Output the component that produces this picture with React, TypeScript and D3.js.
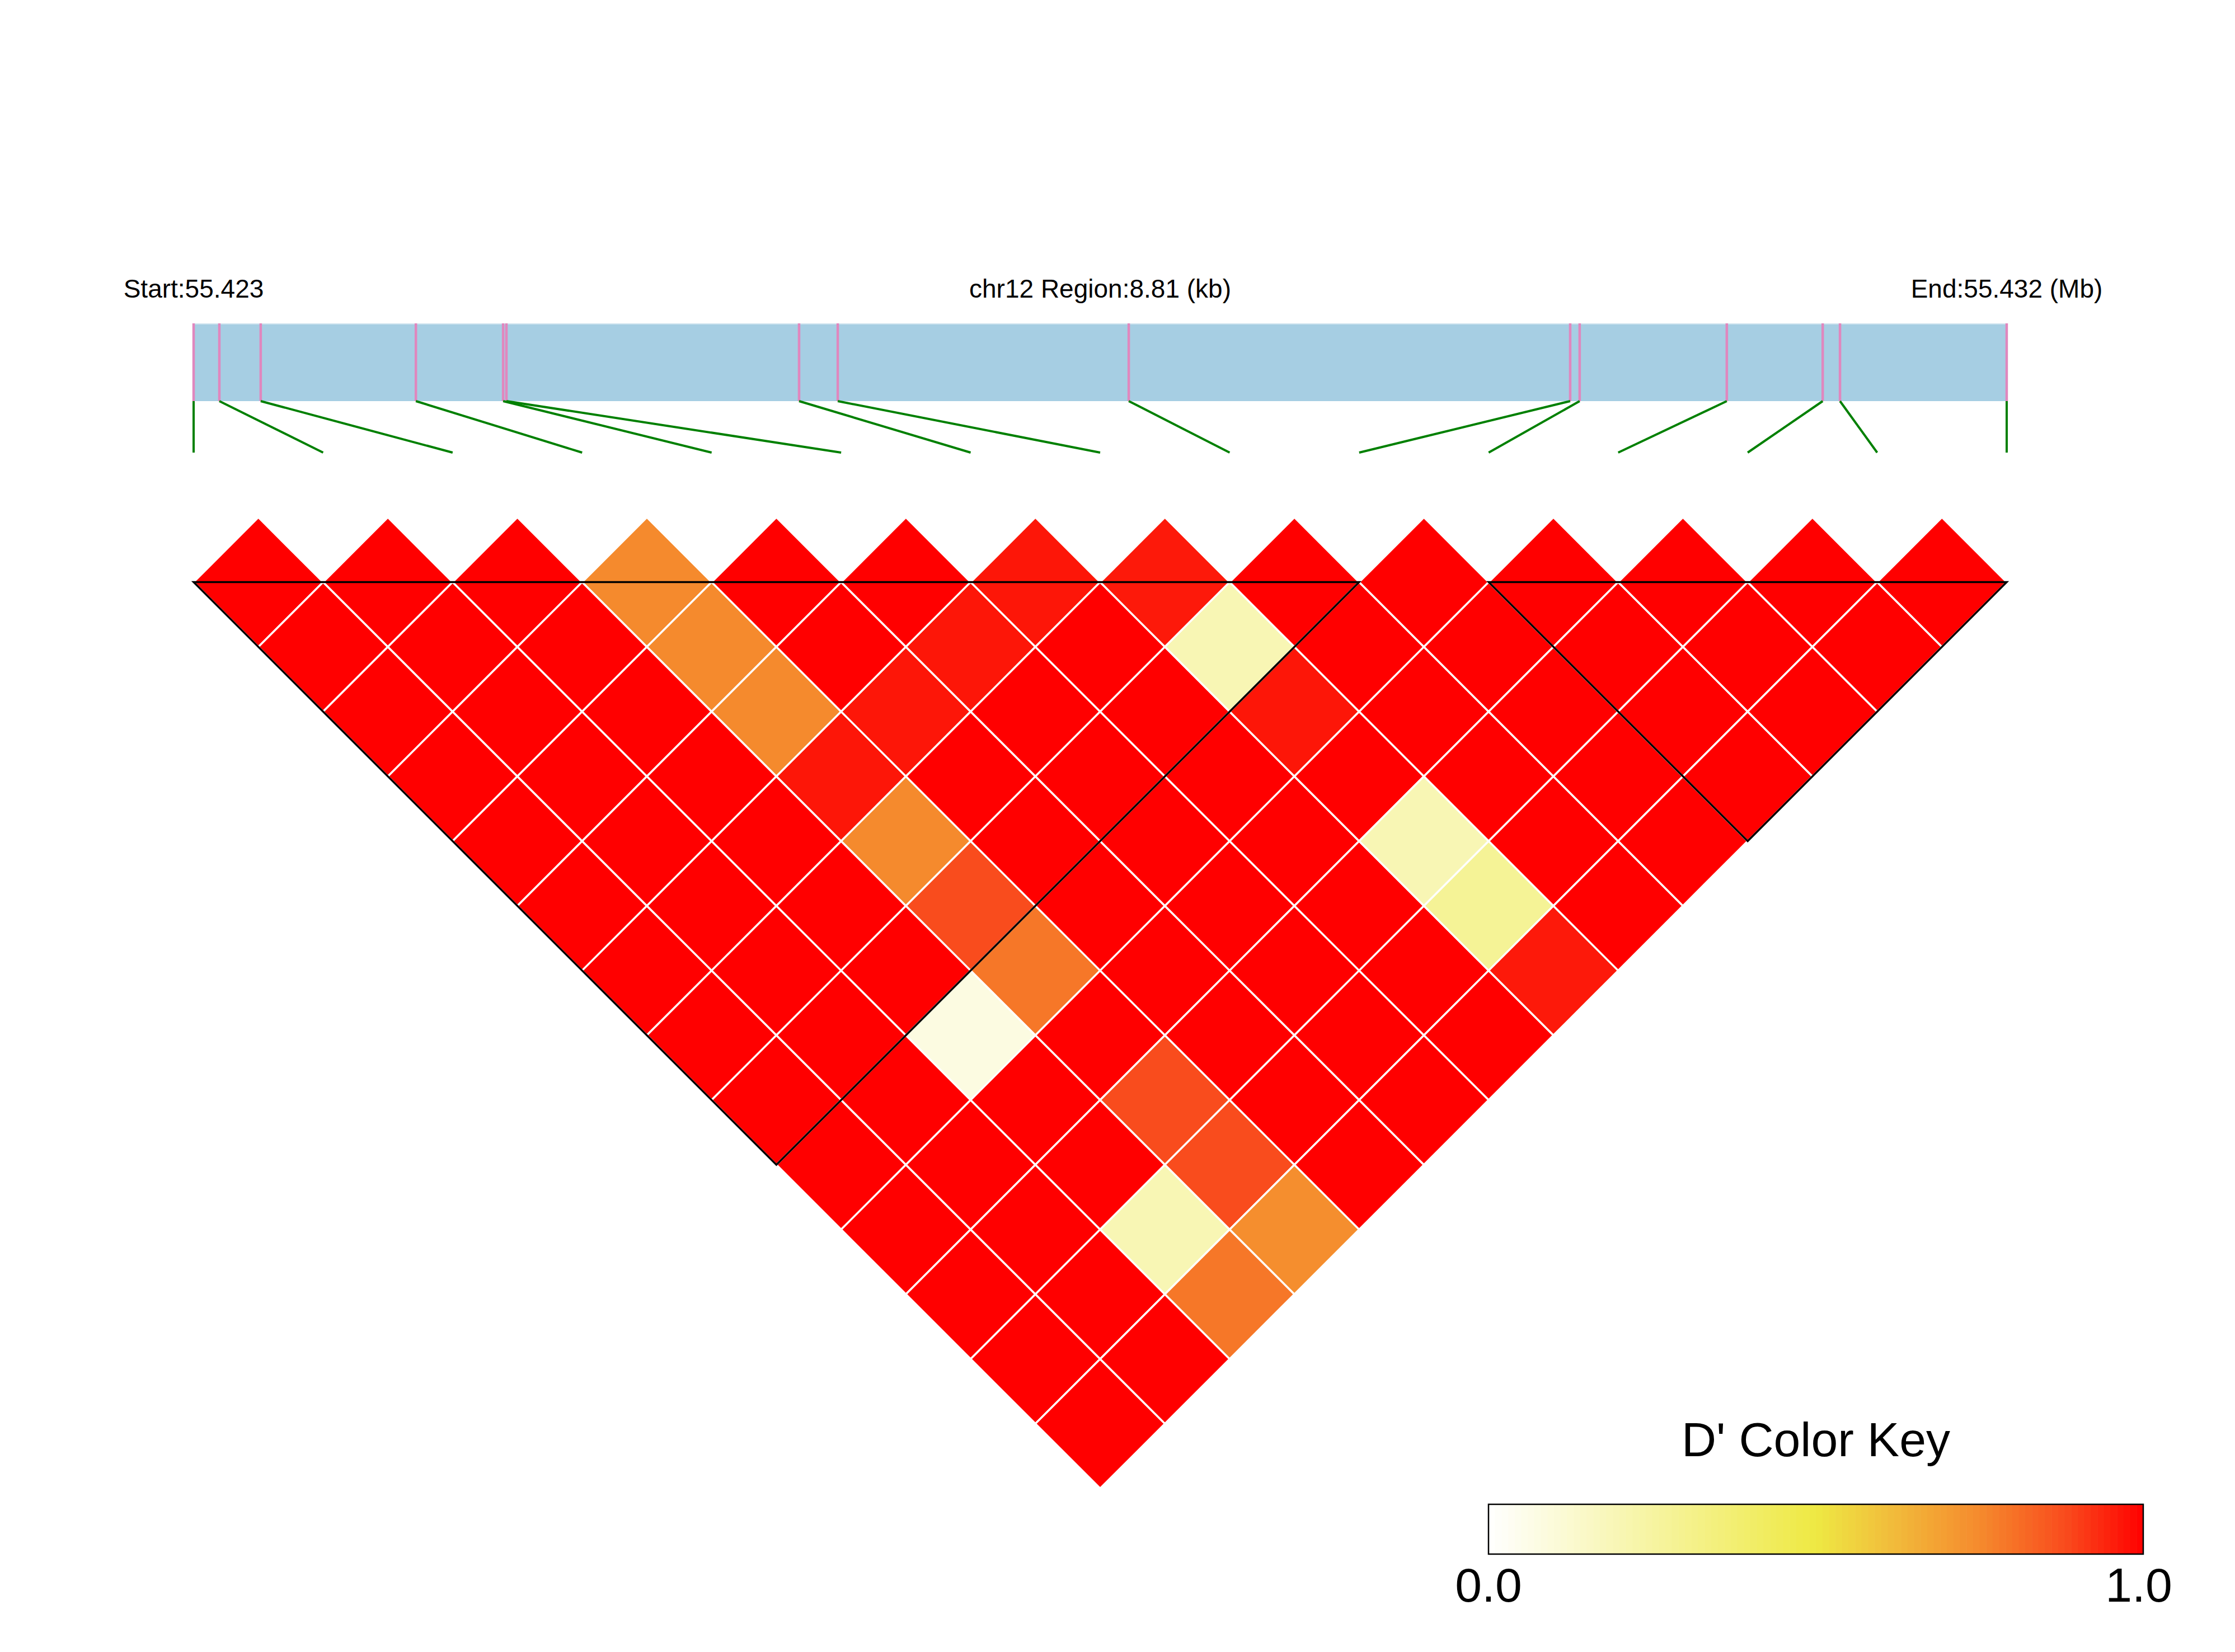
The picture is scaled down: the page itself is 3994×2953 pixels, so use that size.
import React from "react";
import * as d3 from "d3";

// ---- data ----
const chromosome = "chr12";
const snpPositions = [
  55423100, 55423225, 55423426, 55424180, 55424604, 55424620, 55426042, 55426230,
  55427644, 55429789, 55429835, 55430550, 55431016, 55431100, 55431910,
];
// D' for pair (i, j), j = i+1 .. 14 ; row i
const dPrimeRows: number[][] = [
  [1, 1, 1, 1, 1, 1, 1, 1, 1, 1, 1, 1, 1, 1],
  [1, 1, 1, 1, 1, 1, 1, 1, 1, 1, 1, 1, 1],
  [1, 1, 1, 1, 1, 1, 1, 0.08, 1, 1, 0.2, 0.79],
  [0.75, 0.75, 0.75, 0.965, 0.75, 0.88, 0.79, 1, 0.88, 0.88, 0.74],
  [1, 1, 0.965, 1, 1, 1, 1, 1, 1, 1],
  [1, 0.965, 1, 1, 1, 1, 1, 1, 1],
  [0.965, 1, 1, 1, 1, 1, 1, 1],
  [0.96, 0.2, 0.965, 1, 0.2, 0.28, 0.96],
  [1, 1, 1, 1, 1, 1],
  [1, 1, 1, 1, 1],
  [1, 1, 1, 1],
  [1, 1, 1],
  [1, 1],
  [1],
];
const blocks: [number, number][] = [
  [0, 9],
  [10, 14],
];
const keyStops = [0, 0.5, 0.6, 0.75, 0.88, 1];
const keyColors = ["#ffffff", "#eee943", "#f1c23c", "#f58a2d", "#f94c1d", "#ff0000"];
const keyTickLabels = ["0.0", "1.0"];

const W = 3994;
const H = 2953;
const FONT = "'Liberation Sans', Arial, Helvetica, sans-serif";

export default function App() {
  const n = snpPositions.length;
  const start = snpPositions[0];
  const end = snpPositions[n - 1];

  const left = 346;
  const right = 3586;
  const barTop = 578;
  const barBottom = 717;
  const linkBottom = 809;
  const topY = 1040.6;

  const xGenome = d3.scaleLinear().domain([start, end]).range([left, right]);
  const xIdx = d3.scaleLinear().domain([0, n - 1]).range([left, right]);
  const half = (xIdx(1) - xIdx(0)) / 2;
  const yRow = d3.scaleLinear().domain([1, 2]).range([topY, topY + half]);
  const color = d3.scaleLinear<string>().domain(keyStops).range(keyColors).interpolate(d3.interpolateRgb);

  const cells: { i: number; j: number; v: number }[] = [];
  dPrimeRows.forEach((row, i) => row.forEach((v, k) => cells.push({ i, j: i + 1 + k, v })));

  const diamond = (cx: number, cy: number) =>
    `${cx},${cy - half} ${cx + half},${cy} ${cx},${cy + half} ${cx - half},${cy}`;

  // key
  const keyX = d3.scaleLinear().domain([0, 1]).range([2660, 3830]);
  const keyTop = 2689;
  const keyBottom = 2778;
  const nKey = 100;
  const keySteps = d3.range(nKey).map((k) => k / nKey);

  return (
    <svg
      width={W}
      height={H}
      viewBox={`0 0 ${W} ${H}`}
      style={{ position: "absolute", left: 0, top: 0, background: "#fff", display: "block" }}
      fontFamily={FONT}
    >
      <rect x={0} y={0} width={W} height={H} fill="#fff" />
      {/* header text */}
      <text x={xGenome(start)} y={532} fontSize={46} textAnchor="middle">
        {`Start:${(start / 1e6).toFixed(3)}`}
      </text>
      <text x={(xGenome(start) + xGenome(end)) / 2} y={532} fontSize={46} textAnchor="middle">
        {`${chromosome} Region:${((end - start) / 1000).toFixed(2)} (kb)`}
      </text>
      <text x={xGenome(end)} y={532} fontSize={46} textAnchor="middle">
        {`End:${(end / 1e6).toFixed(3)} (Mb)`}
      </text>

      {/* gene region bar */}
      <rect x={xGenome(start)} y={barTop} width={xGenome(end) - xGenome(start)} height={barBottom - barTop} fill="#a6cee3" />
      <line x1={xGenome(start)} x2={xGenome(end)} y1={barTop + 1} y2={barTop + 1} stroke="#cfe4ef" strokeWidth={2} />
      {snpPositions.map((p, k) => (
        <line key={`p${k}`} x1={xGenome(p)} x2={xGenome(p)} y1={barTop} y2={barBottom} stroke="#e087be" strokeWidth={4.5} />
      ))}
      {snpPositions.map((p, k) => (
        <line key={`g${k}`} x1={xGenome(p)} y1={barBottom} x2={xIdx(k)} y2={linkBottom} stroke="#008000" strokeWidth={4} />
      ))}

      {/* LD heatmap */}
      {cells.map((c) => (
        <polygon
          key={`c${c.i}-${c.j}`}
          points={diamond(xIdx((c.i + c.j) / 2), yRow(c.j - c.i))}
          fill={color(c.v)}
          stroke="#ffffff"
          strokeWidth={3.5}
          strokeLinejoin="miter"
        />
      ))}
      {blocks.map(([a, b], k) => {
        const xa = xIdx(a);
        const xb = xIdx(b);
        const bx = (xa + xb) / 2;
        const by = topY + (xb - xa) / 2;
        return (
          <polygon
            key={`b${k}`}
            points={`${xa},${topY} ${xb},${topY} ${bx},${by}`}
            fill="none"
            stroke="#000"
            strokeWidth={3.5}
          />
        );
      })}

      {/* color key */}
      <text x={(keyX(0) + keyX(1)) / 2} y={2603} fontSize={86} textAnchor="middle">
        D' Color Key
      </text>
      {keySteps.map((t, k) => (
        <rect
          key={`k${k}`}
          x={keyX(t)}
          y={keyTop}
          width={keyX(1 / nKey) - keyX(0) + 0.6}
          height={keyBottom - keyTop}
          fill={color(t + 0.5 / nKey)}
        />
      ))}
      <rect x={keyX(0)} y={keyTop} width={keyX(1) - keyX(0)} height={keyBottom - keyTop} fill="none" stroke="#000" strokeWidth={2.5} />
      <text x={keyX(0)} y={2863} fontSize={86} textAnchor="middle">
        {keyTickLabels[0]}
      </text>
      <text x={keyX(1) - 8} y={2863} fontSize={86} textAnchor="middle">
        {keyTickLabels[1]}
      </text>
    </svg>
  );
}
